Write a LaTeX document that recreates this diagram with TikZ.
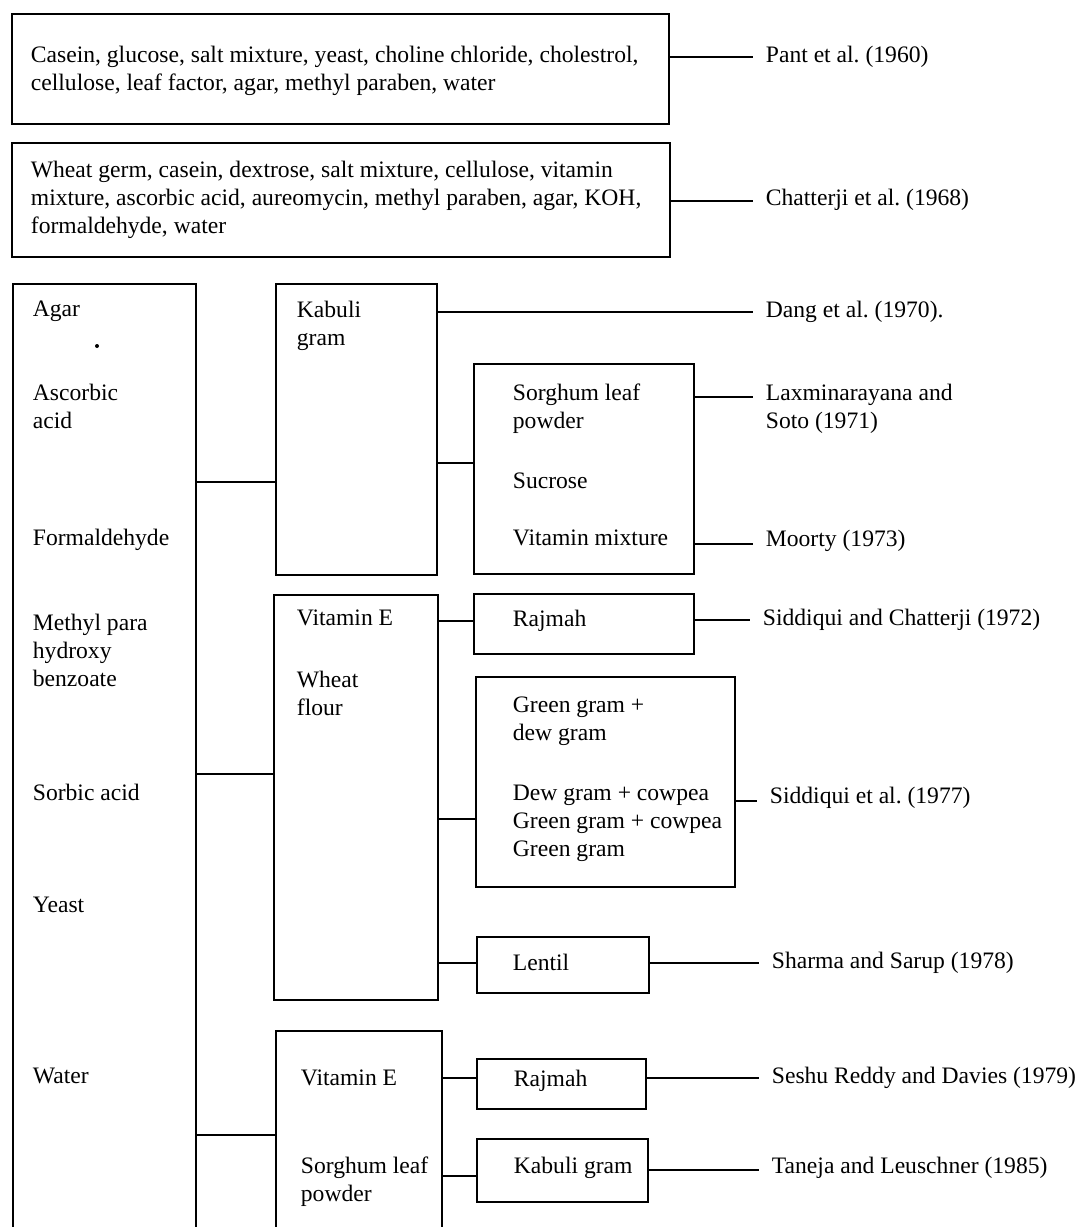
\documentclass[tikz,border=0pt]{standalone}
\usepackage{fontspec}
\setmainfont{Liberation Serif}
\usetikzlibrary{fit}
\frenchspacing

\begin{document}
\begin{tikzpicture}[x=0.5pt,y=-0.5pt,line width=0.9pt,font=\fontsize{11.8}{14}\selectfont,
  panel/.style={draw,fit={#1},inner sep=0pt},
  txt/.style={anchor=north west,inner sep=0pt,align=left},
  link/.style={shorten >=6pt}]
\useasboundingbox (0,0) rectangle (1079,1227);
% boxes
\node[panel={(12,14) (669,124)}] (pant) {};
\node[panel={(12,143) (670,257)}] (chat) {};
\node[panel={(13,284) (196,1240)}] (addit) {};
\node[panel={(276,284) (437,575)}] (kabuli) {};
\node[panel={(474,364) (694,574)}] (sorgh) {};
\node[panel={(274,595) (438,1000)}] (wheat) {};
\node[panel={(474,594) (694,654)}] (rajm) {};
\node[panel={(476,677) (735,887)}] (green) {};
\node[panel={(477,937) (649,993)}] (lentil) {};
\node[panel={(276,1031) (442,1240)}] (vite) {};
\node[panel={(477,1059) (646,1109)}] (rajmb) {};
\node[panel={(477,1139) (648,1202)}] (kabb) {};
% box texts
\node[txt] (tpant) at (30,45) {Casein, glucose, salt mixture, yeast, choline chloride, cholestrol,\\cellulose, leaf factor, agar, methyl paraben, water};
\node[txt] (tchat) at (30,160) {Wheat germ, casein, dextrose, salt mixture, cellulose, vitamin\\mixture, ascorbic acid, aureomycin, methyl paraben, agar, KOH,\\formaldehyde, water};
\node[txt] (tagar) at (32,300) {Agar};
\fill (97,346) circle (1pt);
\node[txt] (tasc) at (32,383) {Ascorbic\\acid};
\node[txt] (tform) at (32,528) {Formaldehyde};
\node[txt] (tmeth) at (32,613) {Methyl para\\hydroxy\\benzoate};
\node[txt] (tsorb) at (32,783) {Sorbic acid};
\node[txt] (tyeast) at (32,896) {Yeast};
\node[txt] (twater) at (32,1067) {Water};
\node[txt] (tkab) at (296,300) {Kabuli\\gram};
\node[txt] (tsleaf) at (512,383) {Sorghum leaf\\powder};
\node[txt] (tsucr) at (512,472) {Sucrose};
\node[txt] (tvmix) at (512,529) {Vitamin mixture};
\node[txt] (tvite) at (296,609) {Vitamin E};
\node[txt] (twheat) at (296,670) {Wheat\\flour};
\node[txt] (trajm) at (512,609) {Rajmah};
\node[txt] (tgreen) at (512,696) {Green gram +\\dew gram};
\node[txt] (tdew) at (512,784) {Dew gram + cowpea\\Green gram + cowpea\\Green gram};
\node[txt] (tlent) at (512,953) {Lentil};
\node[txt] (tviteb) at (300,1069) {Vitamin E};
\node[txt] (tsleafb) at (300,1156) {Sorghum leaf\\powder};
\node[txt] (trajmb) at (513,1069) {Rajmah};
\node[txt] (tkabb) at (513,1156) {Kabuli gram};
% references
\node[txt] (pantref) at (765,45) {Pant et al. (1960)};
\node[txt] (chatref) at (765,188) {Chatterji et al. (1968)};
\node[txt] (dangref) at (765,300) {Dang et al. (1970).};
\node[txt] (laxref) at (765,383) {Laxminarayana and\\Soto (1971)};
\node[txt] (moorref) at (765,529) {Moorty (1973)};
\node[txt] (sidaref) at (762,608) {Siddiqui and Chatterji (1972)};
\node[txt] (sidbref) at (769,786) {Siddiqui et al. (1977)};
\node[txt] (sharref) at (771,951) {Sharma and Sarup (1978)};
\node[txt] (seshref) at (771,1066) {Seshu Reddy and Davies (1979)};
\node[txt] (tanref) at (771,1156) {Taneja and Leuschner (1985)};
% tree links
\draw (addit.east |- 0,482) -- (kabuli.west |- 0,482);
\draw (addit.east |- 0,774) -- (wheat.west |- 0,774);
\draw (addit.east |- 0,1135) -- (vite.west |- 0,1135);
\draw (kabuli.east |- 0,463) -- (sorgh.west |- 0,463);
\draw (wheat.east |- 0,621) -- (rajm.west |- 0,621);
\draw (wheat.east |- 0,819) -- (green.west |- 0,819);
\draw (wheat.east |- 0,963) -- (lentil.west |- 0,963);
\draw (vite.east |- 0,1078) -- (rajmb.west |- 0,1078);
\draw (vite.east |- 0,1176) -- (kabb.west |- 0,1176);
% reference links
\draw[link] (pant.east |- 0,57) -- (pantref.west |- 0,57);
\draw[link] (chat.east |- 0,201) -- (chatref.west |- 0,201);
\draw[link] (kabuli.east |- 0,312) -- (dangref.west |- 0,312);
\draw[link] (sorgh.east |- 0,397) -- (laxref.west |- 0,397);
\draw[link] (sorgh.east |- 0,544) -- (moorref.west |- 0,544);
\draw[link] (rajm.east |- 0,620) -- (sidaref.west |- 0,620);
\draw[link] (green.east |- 0,801) -- (sidbref.west |- 0,801);
\draw[link] (lentil.east |- 0,963) -- (sharref.west |- 0,963);
\draw[link] (rajmb.east |- 0,1078) -- (seshref.west |- 0,1078);
\draw[link] (kabb.east |- 0,1170) -- (tanref.west |- 0,1170);
\end{tikzpicture}
\end{document}
